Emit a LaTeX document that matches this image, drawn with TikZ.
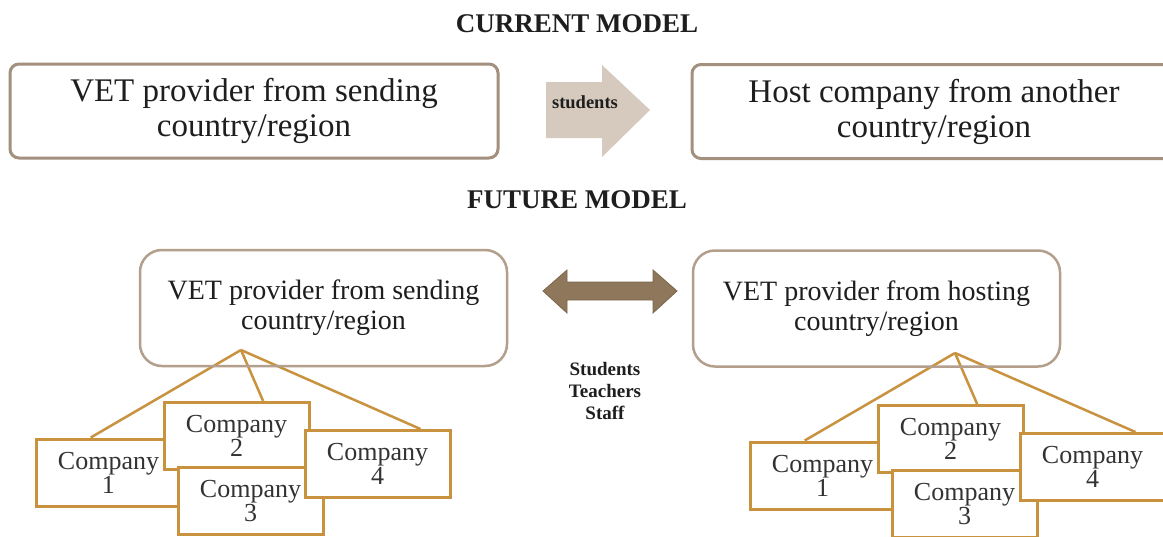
\documentclass[tikz,border=0pt]{standalone}
\usepackage{fontspec}
\setmainfont{Liberation Serif}
\usetikzlibrary{calc}
\pgfdeclarelayer{background}
\pgfsetlayers{background,main}
\definecolor{topborder}{HTML}{A3907F}
\definecolor{midborder}{HTML}{B39F8C}
\definecolor{compborder}{HTML}{C8923E}
\definecolor{arrowlight}{HTML}{D6CABF}
\definecolor{arrowdark}{HTML}{8E775A}
\definecolor{arrowdarkedge}{HTML}{7C6649}
\definecolor{txt}{HTML}{1E1E1E}
\tikzset{
 title/.style={font=\fontsize{27}{28}\selectfont\bfseries, text=txt},
 topbox/.style={draw=topborder, line width=3pt, rounded corners=9pt, minimum height=94pt, align=center, font=\fontsize{33}{35}\selectfont, text=txt, inner sep=0pt},
 midbox/.style={draw=midborder, line width=2.5pt, rounded corners=22pt, minimum width=367pt, minimum height=116pt, align=center, font=\fontsize{28}{30}\selectfont, text=txt, inner sep=0pt},
 compbox/.style={draw=compborder, fill=white, line width=3pt, minimum width=145pt, minimum height=67pt, align=center, font=\fontsize{26}{24}\selectfont, text=black!80, inner sep=0pt},
 link/.style={draw=compborder, line width=2.5pt},
 flow/.style={font=\fontsize{19}{22}\selectfont\bfseries, text=txt, align=center},
 bigarrow/.style={fill=arrowlight},
 duoarrow/.style={fill=arrowdark, draw=arrowdarkedge, line width=0.8pt, line join=miter},
}
\begin{document}
\begin{tikzpicture}[x=1pt,y=-1pt]
\useasboundingbox (0,0) rectangle (1163,536);
\clip (0,0) rectangle (1163,536);

% titles
\node[title] (tcur) at (577,24) {CURRENT MODEL};
\node[title] (tfut) at (577,200) {FUTURE MODEL};

% current model
\node[topbox, minimum width=488pt] (vsend) at (254,111) {VET provider from sending\\country/region};
\node[topbox, minimum width=484pt] (host) at (934,111.5) {Host company from another\\country/region};
\fill[bigarrow] (546,82) -- (602,82) -- (602,65) -- (650,110) -- (602,157) -- (602,138) -- (546,138) -- cycle;
\node[font=\fontsize{18.5}{20}\selectfont\bfseries, text=txt] (stud) at (585,102) {students};

% future model
\node[midbox] (fsend) at (323.5,308) {VET provider from sending\\country/region};
\node[midbox] (fhost) at (876.5,308.5) {VET provider from hosting\\country/region};
\draw[duoarrow] (543,291) -- (567,270) -- (567,282) -- (653,282) -- (653,270) -- (677,291) -- (653,313) -- (653,300) -- (567,300) -- (567,313) -- cycle;
\node[flow] (who) at (605,391) {Students\\Teachers\\Staff};

% apex points
\coordinate (apexL) at (241,350);
\coordinate (apexR) at (955,353);

% left companies
\node[compbox] (c1L) at (108.5,472.5) {Company\\1};
\node[compbox] (c2L) at (236.5,436) {Company\\2};
\node[compbox] (c3L) at (250.5,501) {Company\\3};
\node[compbox] (c4L) at (377.5,464) {Company\\4};
% right companies
\node[compbox] (c1R) at (822.5,475.5) {Company\\1};
\node[compbox] (c2R) at (950.5,439) {Company\\2};
\node[compbox] (c3R) at (964.5,504) {Company\\3};
\node[compbox] (c4R) at (1092.5,467) {Company\\4};

% links behind the company boxes
\begin{pgfonlayer}{background}
\fill[white] (0,0) rectangle (1163,536);
\draw[link] (apexL) -- ($(c1L.north west)!0.38!(c1L.north east)$);
\draw[link] (apexL) -- ($(c2L.north west)!0.68!(c2L.north east)$);
\draw[link] (apexL) -- ($(c4L.north west)!0.79!(c4L.north east)$);
\draw[link] (apexR) -- ($(c1R.north west)!0.38!(c1R.north east)$);
\draw[link] (apexR) -- ($(c2R.north west)!0.68!(c2R.north east)$);
\draw[link] (apexR) -- ($(c4R.north west)!0.79!(c4R.north east)$);
\end{pgfonlayer}
\end{tikzpicture}
\end{document}
